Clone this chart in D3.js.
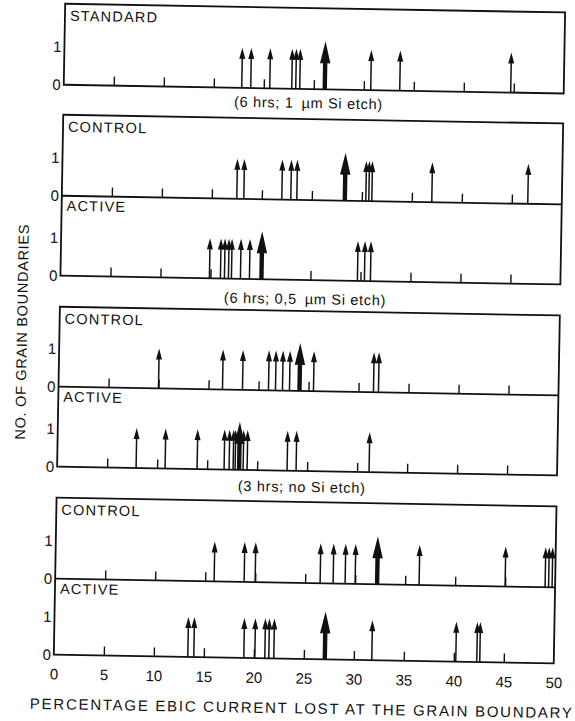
<!DOCTYPE html>
<html>
<head>
<meta charset="utf-8">
<script src="https://cdn.jsdelivr.net/npm/d3@7"></script>
<style>
  html, body { margin: 0; padding: 0; background: #fff; }
  svg { display: block; font-family: "Liberation Sans", Arial, Helvetica, sans-serif; }
</style>
</head>
<body>
<div id="chart"></div>
<script>
// Percentage of EBIC current lost at individual grain boundaries.
// Each value is one boundary (count = 1); the "mean" value is drawn as a heavy arrow.
const xTickLabels = [0, 5, 10, 15, 20, 25, 30, 35, 40, 45, 50];
const minorTicks = [5, 10, 15, 20, 25, 30, 35, 40, 45];
const countTicks = [0, 1];

const standardEtch1 = [17.8, 18.7, 20.6, 22.8, 23.2, 23.6, 30.7, 33.6, 44.7];
const standardEtch1Mean = 26.1;

const controlEtch05 = [17.5, 18.2, 22.0, 22.9, 23.5, 30.4, 30.7, 31.0, 37.0, 46.6];
const controlEtch05Mean = 28.3;
const activeEtch05 = [14.9, 16.0, 16.4, 16.8, 17.1, 18.0, 18.9, 29.7, 30.4, 31.0];
const activeEtch05Mean = 20.1;

const controlNoEtch = [10.0, 16.4, 18.4, 21.0, 21.7, 22.4, 23.1, 25.5, 31.5, 32.0];
const controlNoEtchMean = 24.1;
const activeNoEtch = [7.9, 10.8, 14.0, 16.7, 17.2, 17.6, 17.8, 18.6, 19.0, 23.0, 23.9, 31.2];
const activeNoEtchMean = 18.2;

const controlLast = [15.9, 18.9, 20.0, 26.5, 27.8, 29.0, 30.0, 36.4, 45.0, 49.0, 49.35, 49.7];
const controlLastMean = 32.2;
const activeLast = [13.4, 14.0, 19.0, 20.1, 21.1, 21.5, 22.0, 31.8, 40.2, 42.3, 42.6];
const activeLastMean = 27.1;

const captions = ["(6 hrs; 1\u2002\u00b5m Si etch)", "(6 hrs; 0,5\u2002\u00b5m Si etch)", "(3 hrs; no Si etch)"];
const xTitle = "PERCENTAGE EBIC CURRENT LOST AT THE GRAIN BOUNDARY";
const yTitle = "NO. OF GRAIN BOUNDARIES";

// ---- layout ----
const W = 575, H = 721;
const INK = "#111";
const FONT = "\"Liberation Sans\", Arial, sans-serif";

const blocks = [
  { top: 8,   caption: captions[0], capY: 103,
    rows: [{ label: "STANDARD", base: 89, values: standardEtch1, mean: standardEtch1Mean }] },
  { top: 119, caption: captions[1], capY: 299,
    rows: [{ label: "CONTROL", base: 200, values: controlEtch05, mean: controlEtch05Mean },
           { label: "ACTIVE",  base: 280, values: activeEtch05,  mean: activeEtch05Mean }] },
  { top: 311, caption: captions[2], capY: 487,
    rows: [{ label: "CONTROL", base: 391, values: controlNoEtch, mean: controlNoEtchMean },
           { label: "ACTIVE",  base: 471, values: activeNoEtch,  mean: activeNoEtchMean }] },
  { top: 502, caption: null,
    rows: [{ label: "CONTROL", base: 583, values: controlLast, mean: controlLastMean },
           { label: "ACTIVE",  base: 659, values: activeLast,  mean: activeLastMean }] }
];

const x = d3.scaleLinear().domain([0, 50]).range([59, 559]);
const UNIT = 38; // pixel height of one grain boundary

const svg = d3.select("#chart").append("svg")
  .attr("width", W).attr("height", H);

// the whole figure sits slightly tilted on the page
const fig = svg.append("g").attr("transform", "rotate(1.0, 305, 360)");

function arrowPath(xc, yb, yt, stem, headL, headW) {
  const s = stem / 2;
  return `M${xc - s},${yb} L${xc - s},${yt + headL} L${xc - headW},${yt + headL} ` +
         `L${xc},${yt} L${xc + headW},${yt + headL} L${xc + s},${yt + headL} L${xc + s},${yb} Z`;
}

blocks.forEach(blk => {
  const last = blk.rows[blk.rows.length - 1].base;
  const g = fig.append("g");

  // frame
  g.append("rect")
    .attr("x", x(0)).attr("y", blk.top)
    .attr("width", x(50) - x(0)).attr("height", last - blk.top)
    .attr("fill", "none").attr("stroke", INK).attr("stroke-width", 1.8);

  blk.rows.forEach((row, ri) => {
    const y = d3.scaleLinear().domain([0, 1]).range([row.base, row.base - UNIT]);
    const rowTop = ri === 0 ? blk.top : blk.rows[ri - 1].base;

    // divider between CONTROL and ACTIVE
    if (ri < blk.rows.length - 1) {
      g.append("line")
        .attr("x1", x(0)).attr("x2", x(50))
        .attr("y1", row.base).attr("y2", row.base)
        .attr("stroke", INK).attr("stroke-width", 1.8);
    }

    // row label
    g.append("text")
      .attr("x", x(0) + 5).attr("y", rowTop + (ri === 0 ? 17 : 15))
      .attr("font-size", 14.5).attr("letter-spacing", 1.2)
      .attr("fill", INK).text(row.label);

    // small ticks every 5 %
    const tg = g.append("g").attr("transform", `translate(0,${row.base})`)
      .call(d3.axisTop(x).tickValues(minorTicks).tickSize(9).tickFormat(""));
    tg.select(".domain").remove();
    tg.selectAll(".tick line").attr("stroke", INK).attr("stroke-width", 1.4);

    // count axis 0 / 1
    const yg = g.append("g").attr("transform", `translate(${x(0)},0)`)
      .call(d3.axisLeft(y).tickValues(countTicks).tickSize(0).tickPadding(3).tickFormat(d3.format("d")));
    yg.select(".domain").remove();
    yg.selectAll("text").attr("font-size", 15).attr("fill", INK).attr("font-family", FONT);

    // individual grain boundaries
    g.append("g").selectAll("path").data(row.values).join("path")
      .attr("d", v => arrowPath(x(v), row.base, y(1) - 2, 1.5, 11, 3))
      .attr("fill", INK);

    // mean
    g.append("path")
      .attr("d", arrowPath(x(row.mean), row.base, y(1) - 10, 4.4, 22, 5.2))
      .attr("fill", INK);
  });

  if (blk.caption) {
    fig.append("text")
      .attr("x", 304).attr("y", blk.capY)
      .attr("dominant-baseline", "central")
      .attr("text-anchor", "middle")
      .attr("font-size", 14.5).attr("letter-spacing", 0.7)
      .attr("fill", INK).text(blk.caption);
  }
});

// percentage axis under the last block
const lastBase = blocks[blocks.length - 1].rows[1].base;
const xg = fig.append("g").attr("transform", `translate(0,${lastBase})`)
  .call(d3.axisBottom(x).tickValues(xTickLabels).tickSize(0).tickPadding(14).tickFormat(d3.format("d")));
xg.select(".domain").remove();
xg.selectAll("text").attr("font-size", 15).attr("fill", INK).attr("font-family", FONT);

// axis titles
fig.append("text")
  .attr("x", 307).attr("y", 708)
  .attr("dominant-baseline", "central").attr("text-anchor", "middle")
  .attr("font-size", 15).attr("fill", INK)
  .attr("textLength", 542).attr("lengthAdjust", "spacing")
  .text(xTitle);

fig.append("text")
  .attr("transform", "translate(21.5,337) rotate(-90)")
  .attr("dominant-baseline", "central").attr("text-anchor", "middle")
  .attr("font-size", 14.5).attr("fill", INK)
  .attr("textLength", 215).attr("lengthAdjust", "spacing")
  .text(yTitle);
</script>
</body>
</html>
